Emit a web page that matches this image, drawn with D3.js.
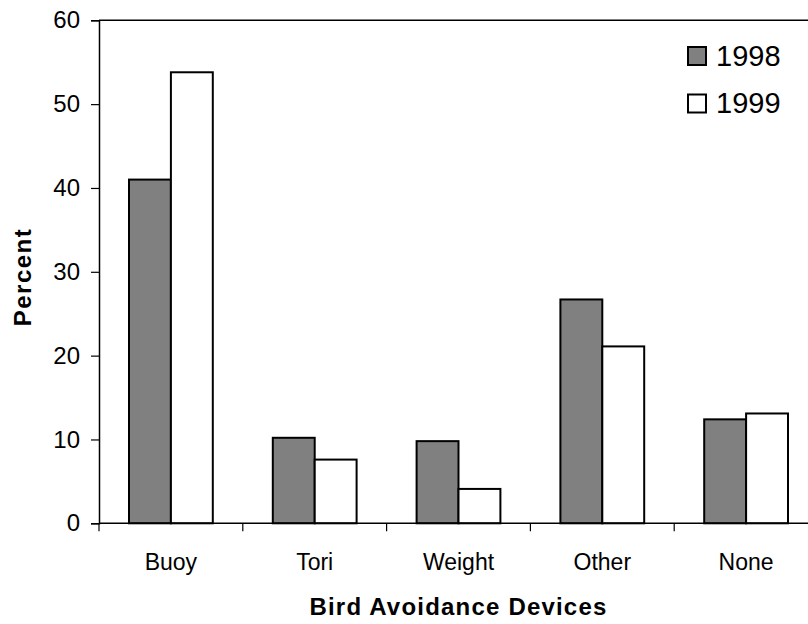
<!DOCTYPE html>
<html><head><meta charset="utf-8">
<script src="https://cdn.jsdelivr.net/npm/d3@7"></script>
<style>body{margin:0;background:#fff}svg{display:block}text{font-family:"Liberation Sans",Arial,sans-serif;fill:#000}</style>
</head><body><svg id="c" width="808" height="624"></svg>
<script>
const categories = ["Buoy","Tori","Weight","Other","None"];
const series = ["1998","1999"];
const values1998 = [41.0,10.2,9.8,26.7,12.4];
const values1999 = [53.8,7.6,4.1,21.1,13.1];
const yTicks = [0,10,20,30,40,50,60];
const colors = ["#808080","#ffffff"];

(function(){
const svg = d3.select("#c");
const pl=99, pr=818, pt=20.3, pb=523.3;
const x = d3.scaleBand().domain(categories).range([pl,pr]).paddingInner(0).paddingOuter(0);
const y = d3.scaleLinear().domain([0,60]).range([pb,pt]);
const inner = d3.scaleBand().domain(series).range([30,x.bandwidth()-30]).paddingInner(0).paddingOuter(0);

const data = categories.map((c,i)=>({c, v:[values1998[i],values1999[i]]}));

svg.append("line").attr("x1",pl).attr("x2",pr).attr("y1",pt).attr("y2",pt).attr("stroke","#000").attr("stroke-width",1.5);

const g = svg.append("g");
data.forEach(d=>{
  series.forEach((s,j)=>{
    g.append("rect").attr("x",x(d.c)+inner(s)).attr("y",y(d.v[j]))
     .attr("width",inner.bandwidth()).attr("height",y(0)-y(d.v[j]))
     .attr("fill",colors[j]).attr("stroke","#000").attr("stroke-width",2);
  });
});

const ya = svg.append("g").attr("transform",`translate(${pl},0)`)
 .call(d3.axisLeft(y).tickValues(yTicks).tickSize(8).tickPadding(11));
ya.select(".domain").attr("stroke-width",1.5);
ya.selectAll("text").style("font-size","24px").attr("fill","#000");
ya.selectAll(".tick line").attr("stroke-width",1.2);

const xa = svg.append("g").attr("transform",`translate(0,${pb})`)
 .call(d3.axisBottom(x).tickSize(0).tickPadding(30));
xa.select(".domain").remove();
svg.append("line").attr("x1",pl).attr("x2",pr).attr("y1",pb).attr("y2",pb).attr("stroke","#000").attr("stroke-width",1.5);
categories.concat([null]).forEach(c=>{
  const xx = c? x(c) : pr;
  svg.append("line").attr("x1",xx).attr("x2",xx).attr("y1",pb).attr("y2",pb+8).attr("stroke","#000").attr("stroke-width",1.2);
});
xa.selectAll("text").style("font-size","23px").attr("fill","#000");

svg.append("text").attr("x",(pl+pr)/2).attr("y",615).attr("text-anchor","middle")
 .style("font-size","24px").style("font-weight","bold").style("letter-spacing","1.2px").text("Bird Avoidance Devices");
svg.append("text").attr("transform","translate(31,277) rotate(-90)").attr("text-anchor","middle")
 .style("font-size","24px").style("font-weight","bold").style("letter-spacing","1.5px").text("Percent");

series.forEach((s,j)=>{
  const cy = 56 + j*47.5;
  svg.append("rect").attr("x",688).attr("y",cy-9).attr("width",18).attr("height",18)
   .attr("fill",colors[j]).attr("stroke","#000").attr("stroke-width",2);
  svg.append("text").attr("x",716).attr("y",cy+9.5).style("font-size","29px").text(s);
});
})();
</script></body></html>
